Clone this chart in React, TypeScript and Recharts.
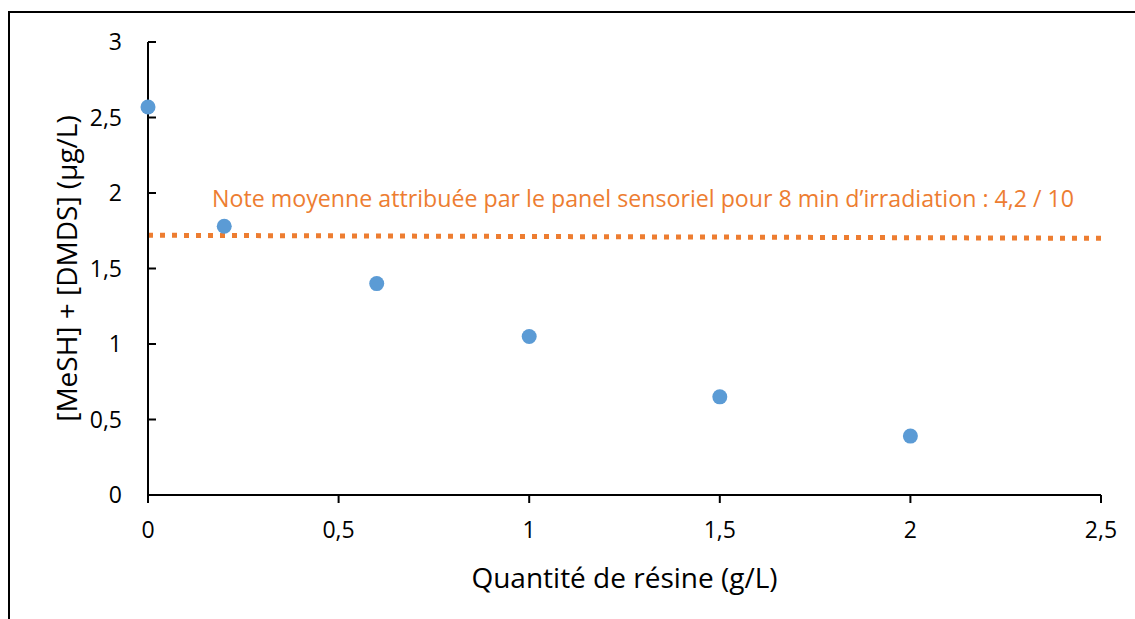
import React from 'react';
import {
  ScatterChart,
  Scatter,
  XAxis,
  YAxis,
  ReferenceLine,
  ReferenceDot,
} from 'recharts';

const resinQuantity = [0, 0.2, 0.6, 1, 1.5, 2];
const concentration = [2.57, 1.78, 1.4, 1.05, 0.65, 0.39];
const xTicks = [0, 0.5, 1, 1.5, 2, 2.5];
const yTicks = [0, 0.5, 1, 1.5, 2, 2.5, 3];
const panelLine = [
  { x: 0, y: 1.72 },
  { x: 2.5, y: 1.7 },
];
const annotationAnchor = { x: 0.168, y: 1.907 };
const annotationText =
  'Note moyenne attribuée par le panel sensoriel pour 8 min d’irradiation : 4,2 / 10';
const xTitle = 'Quantité de résine (g/L)';
const yTitle = '[MeSH] + [DMDS] (µg/L)';

const data = resinQuantity.map((x, i) => ({ x, y: concentration[i] }));

const FONT = '"Open Sans", sans-serif';
const ORANGE = '#ED7D31';
const BLUE = '#5B9BD5';

const fmt = (v: number) => String(v).replace('.', ',');

export default function App() {
  return (
    <div
      style={{
        position: 'absolute',
        left: 0,
        top: 0,
        width: 1135,
        height: 619,
        overflow: 'hidden',
        background: '#fff',
      }}
    >
      <div
        style={{
          position: 'absolute',
          left: 8,
          top: 11,
          width: 2000,
          height: 2000,
          borderLeft: '2px solid #000',
          borderTop: '2px solid #000',
        }}
      />
      <div style={{ position: 'absolute', left: 0, top: 0 }}>
        <ScatterChart
          width={1135}
          height={619}
          margin={{ top: 42, right: 34, bottom: 0, left: 0 }}
        >
          <XAxis
            type="number"
            dataKey="x"
            domain={[0, 2.5]}
            ticks={xTicks}
            tickFormatter={fmt}
            height={124}
            tickSize={8}
            tickMargin={19}
            axisLine={{ stroke: '#000', strokeWidth: 2 }}
            tickLine={{ stroke: '#000', strokeWidth: 2 }}
            tick={{ fill: '#000', fontSize: 23, fontFamily: FONT }}
            label={{
              content: (props: any) => {
                const vb = props.viewBox;
                return (
                  <text
                    x={vb.x + vb.width / 2}
                    y={vb.y + 93}
                    textAnchor="middle"
                    fill="#000"
                    fontSize={28}
                    fontFamily={FONT}
                  >
                    {xTitle}
                  </text>
                );
              },
            }}
          />
          <YAxis
            type="number"
            dataKey="y"
            domain={[0, 3]}
            ticks={yTicks}
            tickFormatter={fmt}
            width={148}
            tickSize={-8}
            tickMargin={34}
            axisLine={{ stroke: '#000', strokeWidth: 2 }}
            tickLine={{ stroke: '#000', strokeWidth: 2 }}
            tick={{ fill: '#000', fontSize: 23, fontFamily: FONT }}
            label={{
              content: (props: any) => {
                const vb = props.viewBox;
                const cx = vb.x + 77;
                const cy = vb.y + vb.height / 2;
                return (
                  <text
                    x={cx}
                    y={cy}
                    transform={`rotate(-90, ${cx}, ${cy})`}
                    textAnchor="middle"
                    fill="#000"
                    fontSize={28}
                    fontFamily={FONT}
                  >
                    {yTitle}
                  </text>
                );
              },
            }}
          />
          <ReferenceLine
            segment={panelLine}
            stroke={ORANGE}
            strokeWidth={5}
            strokeDasharray="5 7"
          />
          <ReferenceDot
            x={annotationAnchor.x}
            y={annotationAnchor.y}
            r={0}
            shape={(p: any) => (
              <text
                x={p.cx}
                y={p.cy}
                fill={ORANGE}
                fontSize={23.2}
                fontFamily={FONT}
                textAnchor="start"
              >
                {annotationText}
              </text>
            )}
          />
          <Scatter
            data={data}
            fill={BLUE}
            isAnimationActive={false}
            shape={(p: any) => <circle cx={p.cx} cy={p.cy} r={7.5} fill={BLUE} />}
          />
        </ScatterChart>
      </div>
    </div>
  );
}
